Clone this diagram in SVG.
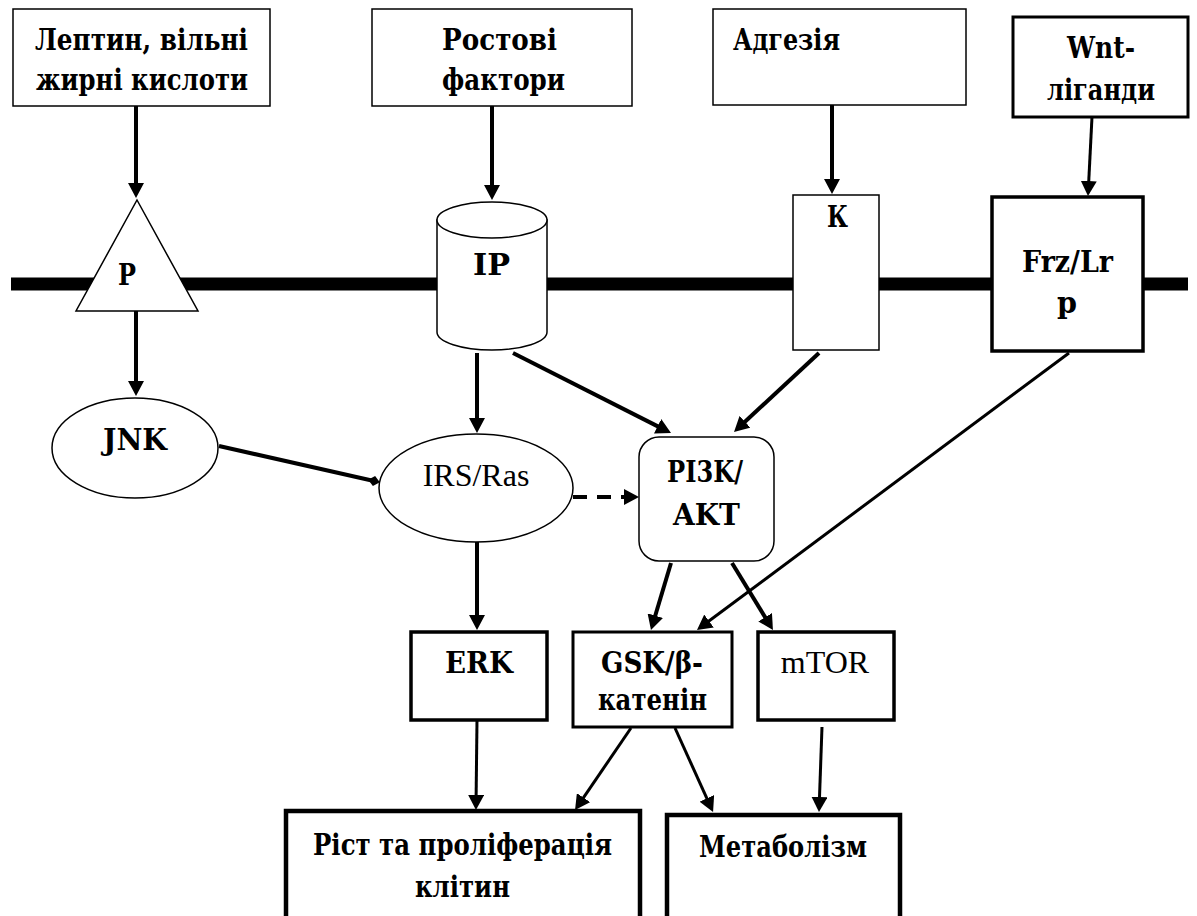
<svg xmlns="http://www.w3.org/2000/svg" width="1197" height="916" viewBox="0 0 1197 916">
<style>
.n{fill:#fff;stroke:#000}
text{font-family:'DejaVu Serif','Liberation Serif',serif;font-size:29px;font-weight:bold;text-anchor:middle;fill:#000}
.r{font-family:'Liberation Serif','Times New Roman',serif;font-size:32px;font-weight:normal}
.s{text-anchor:start}
.c{fill:none;stroke:#000;marker-end:url(#ah)}
.w4{stroke-width:4}
.w3{stroke-width:3}
</style>
<defs>
<marker id="ah" markerUnits="userSpaceOnUse" viewBox="0 0 15 16" markerWidth="15" markerHeight="16" refX="3" refY="8" orient="auto">
<path d="M0,0 L15,8 L0,16 z" fill="#000"/>
</marker>
<marker id="dm" markerUnits="userSpaceOnUse" viewBox="0 0 12 10" markerWidth="12" markerHeight="10" refX="6" refY="5" orient="auto">
<path d="M0,5 L6,0 L12,5 L6,10 z" fill="#000"/>
</marker>
</defs>
<rect width="1197" height="916" fill="#fff"/>
<g id="membrane">
<line x1="11" y1="284" x2="1188" y2="284" stroke="#000" stroke-width="13"/>
</g>
<g id="connectors">
<line class="c w4" x1="136" y1="106" x2="136" y2="186"/>
<line class="c w4" x1="136" y1="311" x2="136" y2="384"/>
<line class="c w4" x1="492" y1="106" x2="492" y2="188"/>
<line class="c w4" x1="832" y1="105" x2="832" y2="182"/>
<line class="c w3" x1="1092" y1="117" x2="1088.6" y2="184"/>
<line class="c w4" x1="477" y1="353" x2="477" y2="421"/>
<line class="c w4" x1="513" y1="353" x2="660.3" y2="427.6"/>
<line class="c w4" x1="819" y1="353" x2="742.8" y2="423.8"/>
<line class="c w4" x1="573" y1="497" x2="627" y2="497" stroke-dasharray="14 10"/>
<line class="c w4" x1="477" y1="542" x2="477" y2="618"/>
<line class="c w4" x1="671" y1="563" x2="654.4" y2="618.5"/>
<line class="c w4" x1="732" y1="563" x2="766.7" y2="619.8"/>
<line class="c w3" x1="1069" y1="353" x2="706.6" y2="622.8"/>
<line class="c w3" x1="477" y1="720" x2="476.1" y2="798"/>
<line class="c w3" x1="631" y1="728" x2="581.8" y2="800.1"/>
<line class="c w3" x1="675" y1="728" x2="708.1" y2="801.1"/>
<line class="c w3" x1="822" y1="727" x2="819.4" y2="800"/>
<line x1="219" y1="446" x2="374" y2="481" stroke="#000" stroke-width="4" marker-end="url(#dm)"/>
</g>
<g id="leptin">
<rect class="n" x="13" y="9" width="257" height="97" stroke-width="1.5"/>
<text x="141.5" y="50" textLength="213" lengthAdjust="spacingAndGlyphs">Лептин, вільні</text>
<text x="142" y="90" textLength="212" lengthAdjust="spacingAndGlyphs">жирні кислоти</text>
</g>
<g id="growth">
<rect class="n" x="372" y="9" width="260" height="97" stroke-width="1.5"/>
<text x="499.5" y="50" textLength="115" lengthAdjust="spacingAndGlyphs">Ростові</text>
<text x="503.5" y="90" textLength="123" lengthAdjust="spacingAndGlyphs">фактори</text>
</g>
<g id="adhesion">
<rect class="n" x="713" y="9" width="253" height="96" stroke-width="1.5"/>
<text class="s" x="733" y="50" textLength="107" lengthAdjust="spacingAndGlyphs">Адгезія</text>
</g>
<g id="wnt">
<rect class="n" x="1013" y="17" width="175" height="100" stroke-width="3"/>
<text x="1101" y="58" textLength="68" lengthAdjust="spacingAndGlyphs">Wnt-</text>
<text x="1101" y="100" textLength="108" lengthAdjust="spacingAndGlyphs">ліганди</text>
</g>
<g id="receptorP">
<path class="n" d="M137,200 L198,311 L76,311 Z" stroke-width="1.5"/>
<text x="127" y="285" textLength="18" lengthAdjust="spacingAndGlyphs">P</text>
</g>
<g id="receptorIP">
<path class="n" d="M437,220 L437,332 A55,18 0 0 0 547,332 L547,220 Z" stroke-width="1.5"/>
<ellipse class="n" cx="492" cy="220" rx="55" ry="18" stroke-width="1.5"/>
<text x="491.5" y="275" textLength="37" lengthAdjust="spacingAndGlyphs">IP</text>
</g>
<g id="receptorK">
<rect class="n" x="793" y="195" width="86" height="155" stroke-width="1.5"/>
<text x="837.5" y="227" textLength="21" lengthAdjust="spacingAndGlyphs">К</text>
</g>
<g id="frz">
<rect class="n" x="992" y="197" width="151" height="154" stroke-width="3.5"/>
<text x="1067.5" y="272" textLength="91" lengthAdjust="spacingAndGlyphs">Frz/Lr</text>
<text x="1067" y="313" textLength="20" lengthAdjust="spacingAndGlyphs">p</text>
</g>
<g id="jnk">
<ellipse class="n" cx="135" cy="448" rx="83" ry="50" stroke-width="1.5"/>
<text x="135" y="450" textLength="64" lengthAdjust="spacingAndGlyphs">JNK</text>
</g>
<g id="irs">
<ellipse class="n" cx="476" cy="488" rx="97" ry="54" stroke-width="1.5"/>
<text class="r" x="476" y="486">IRS/Ras</text>
</g>
<g id="pi3k">
<rect class="n" x="639" y="437" width="135" height="124" rx="20" ry="20" stroke-width="1.5"/>
<text x="705" y="482" textLength="76" lengthAdjust="spacingAndGlyphs">PI3K/</text>
<text x="706.5" y="525" textLength="67" lengthAdjust="spacingAndGlyphs">AKT</text>
</g>
<g id="erk">
<rect class="n" x="411" y="632" width="136" height="88" stroke-width="3.5"/>
<text x="479" y="673" textLength="68" lengthAdjust="spacingAndGlyphs">ERK</text>
</g>
<g id="gsk">
<rect class="n" x="573" y="632" width="159" height="95" stroke-width="3"/>
<text x="652" y="673" textLength="102" lengthAdjust="spacingAndGlyphs">GSK/β-</text>
<text x="652.5" y="710" textLength="109" lengthAdjust="spacingAndGlyphs">катенін</text>
</g>
<g id="mtor">
<rect class="n" x="758" y="632" width="136" height="88" stroke-width="3.5"/>
<text class="r" x="825" y="673">mTOR</text>
</g>
<g id="growthout">
<rect class="n" x="286" y="811" width="354" height="112" stroke-width="4.5"/>
<text x="462.5" y="855" textLength="299" lengthAdjust="spacingAndGlyphs">Ріст та проліферація</text>
<text x="462.5" y="897" textLength="95" lengthAdjust="spacingAndGlyphs">клітин</text>
</g>
<g id="metab">
<rect class="n" x="667" y="815" width="233" height="108" stroke-width="4.5"/>
<text x="783" y="857" textLength="168" lengthAdjust="spacingAndGlyphs">Метаболізм</text>
</g>
</svg>
